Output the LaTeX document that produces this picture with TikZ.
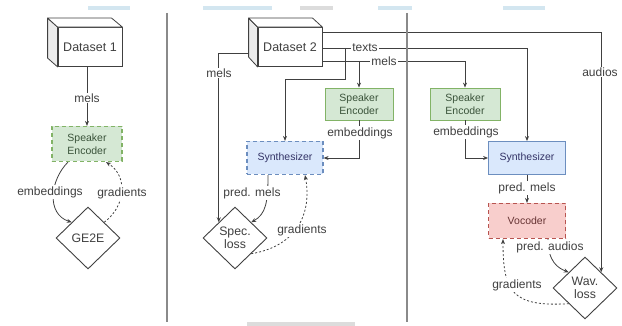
\documentclass[tikz,border=0pt]{standalone}
\usepackage{fontspec}
\setmainfont{Liberation Sans}
\usetikzlibrary{shapes.geometric,arrows.meta,calc}
\definecolor{ink}{HTML}{404040}
\definecolor{encfill}{HTML}{D5E8D4}
\definecolor{encdraw}{HTML}{82B366}
\definecolor{synfill}{HTML}{DAE8FC}
\definecolor{syndraw}{HTML}{6C8EBF}
\definecolor{vocfill}{HTML}{F8CECC}
\definecolor{vocdraw}{HTML}{B85450}
\definecolor{sepgray}{HTML}{8A8A8A}
\definecolor{tabblue}{HTML}{D3E6F0}
\definecolor{tabgray}{HTML}{DCDCDC}
\begin{document}
\begin{tikzpicture}[x=1pt,y=-1pt,
  lbl/.style={font=\fontsize{12}{13}\selectfont, text=ink, fill=white, inner sep=1pt},
  boxbase/.style={draw, line width=0.8pt, align=center, inner sep=0pt,
    font=\fontsize{10.5}{12.5}\selectfont},
  encbox/.style={boxbase, fill=encfill, draw=encdraw, text=ink!90!green},
  synbox/.style={boxbase, fill=synfill, draw=syndraw, text=ink!80!blue},
  vocbox/.style={boxbase, fill=vocfill, draw=vocdraw, text=ink!80!red},
  dashbox/.style={dash pattern=on 4pt off 3pt, line width=1.2pt},
  loss/.style={diamond, draw=ink, line width=0.9pt, fill=white, inner sep=0pt,
    minimum width=64pt, minimum height=62pt, align=center, text=ink,
    font=\fontsize{12.3}{13.5}\selectfont},
  dbox/.style={draw=ink, fill=white, line width=0.8pt, minimum width=64pt,
    minimum height=39pt, inner sep=0pt, text=ink, font=\fontsize{12.5}{14}\selectfont},
  face/.style={draw=ink, line width=0.8pt, line join=round},
  conn/.style={draw=ink, line width=0.8pt, -{Stealth[length=5pt,width=4pt]}},
  grad/.style={conn, dash pattern=on 2pt off 2pt},
  sep/.style={draw=sepgray, line width=2.6pt}
]
\useasboundingbox (0,0) rectangle (622,326);

% faint tabs at the top and bottom edges
\fill[tabblue] (88,6) rectangle (130,10);
\fill[tabblue] (203,6) rectangle (272,10);
\fill[tabgray] (300,6) rectangle (333,10);
\fill[tabblue] (378,6) rectangle (412,10);
\fill[tabblue] (503,6) rectangle (545,10);
\fill[tabgray] (247,322) rectangle (355,326);

% ---------- left panel ----------
\node[dbox] (ds1) at (90,47) {Dataset 1};
\path[face, fill=gray!15] (ds1.north west) -- ++(-10,-9) -- ++(0,40) -- (ds1.south west) -- cycle;
\path[face, fill=white] (ds1.north west) -- ++(-10,-9) -- ++(64,0) -- (ds1.north east) -- cycle;
\node[encbox, dashbox, minimum width=70pt, minimum height=35pt] (enc1) at (87,144) {Speaker\\Encoder};
\node[loss] (ge2e) at (88,238) {GE2E};

\draw[conn] (ds1.south -| enc1.north) -- (enc1.north);
\node[lbl] (l1mels) at (87,98) {mels};
\draw[conn] ($(enc1.south)+(-19,0)$) .. controls (50,180) and (46,214) .. (ge2e.north west);
\node[lbl] (l1emb) at (50,192) {embeddings};
\draw[grad] (ge2e.north east) .. controls (126,206) and (128,176) .. ($(enc1.south)+(19,0)$);
\node[lbl] (l1grad) at (122,193) {gradients};

% ---------- middle panel ----------
\node[dbox] (ds2) at (290,47) {Dataset 2};
\path[face, fill=gray!15] (ds2.north west) -- ++(-9,-9) -- ++(0,39) -- (ds2.south west) -- cycle;
\path[face, fill=white] (ds2.north west) -- ++(-9,-9) -- ++(64,0) -- (ds2.north east) -- cycle;
\node[encbox, minimum width=68pt, minimum height=32pt] (enc2) at (359,104) {Speaker\\Encoder};
\node[synbox, dashbox, minimum width=76pt, minimum height=33pt] (syn2) at (285,158) {Synthesizer};
\node[loss] (spec) at (235,238) {Spec.\\loss};

% ---------- right panel ----------
\node[encbox, minimum width=70pt, minimum height=32pt] (enc3) at (465,104) {Speaker\\Encoder};
\node[synbox, minimum width=77pt, minimum height=33pt] (syn3) at (527,158) {Synthesizer};
\node[vocbox, dashbox, minimum width=77pt, minimum height=35pt] (voc) at (527,221) {Vocoder};
\node[loss] (wav) at (585,288) {Wav.\\loss};

% connectors from Dataset 2
\coordinate (jt) at (345,48);
\coordinate (jm) at (enc2.north |- 0,61);
\draw[conn] (ds2.east |- 0,32) -- (wav.north east |- 0,32) -- (wav.north east);
\draw[conn] (ds2.east |- 0,48) -| (syn3.north);
\draw[conn] (jt) -- (345,79) -| (syn2.north);
\draw[conn] (ds2.east |- 0,61) -| (enc3.north);
\draw[conn] (jm) -- (enc2.north);
\draw[conn] (249,53) -- (spec.north west |- 0,53) -- (spec.north west);
\node[lbl] (ltexts) at (365,48) {texts};
\node[lbl] (lmels2) at (384,61) {mels};
\node[lbl] (lmels1) at (219,73) {mels};
\node[lbl] (laudios) at (600,72) {audios};

% middle panel internals
\draw[conn] (enc2.south) |- (syn2.east);
\node[lbl] (l2emb) at (360,133) {embeddings};
\draw[conn] ($(syn2.south)+(-17,0)$) .. controls (268,202) and (266,214) .. (spec.north east);
\node[lbl] (l2pm) at (252,193) {pred. mels};
\draw[grad] (spec.south east) .. controls (298,246) and (312,212) .. ($(syn2.south)+(20,0)$);
\node[lbl] (l2grad) at (302,230) {gradients};

% right panel internals
\draw[conn] (enc3.south) |- (syn3.west);
\node[lbl] (l3emb) at (466,132) {embeddings};
\draw[conn] (syn3.south) -- (voc.north);
\node[lbl] (l3pm) at (527,188) {pred. mels};
\draw[conn] (voc.south -| 548,0) .. controls (548,262) and (558,268) .. (wav.north west);
\node[lbl] (l3pa) at (550,247) {pred. audios};
\draw[grad] (wav.south west) .. controls (512,307) and (503,292) .. ($(voc.south)+(-24,0)$);
\node[lbl] (l3grad) at (517,285) {gradients};

% panel separators
\draw[sep] (167,13) -- (167,322);
\draw[sep] (407,13) -- (407,322);
\end{tikzpicture}
\end{document}
